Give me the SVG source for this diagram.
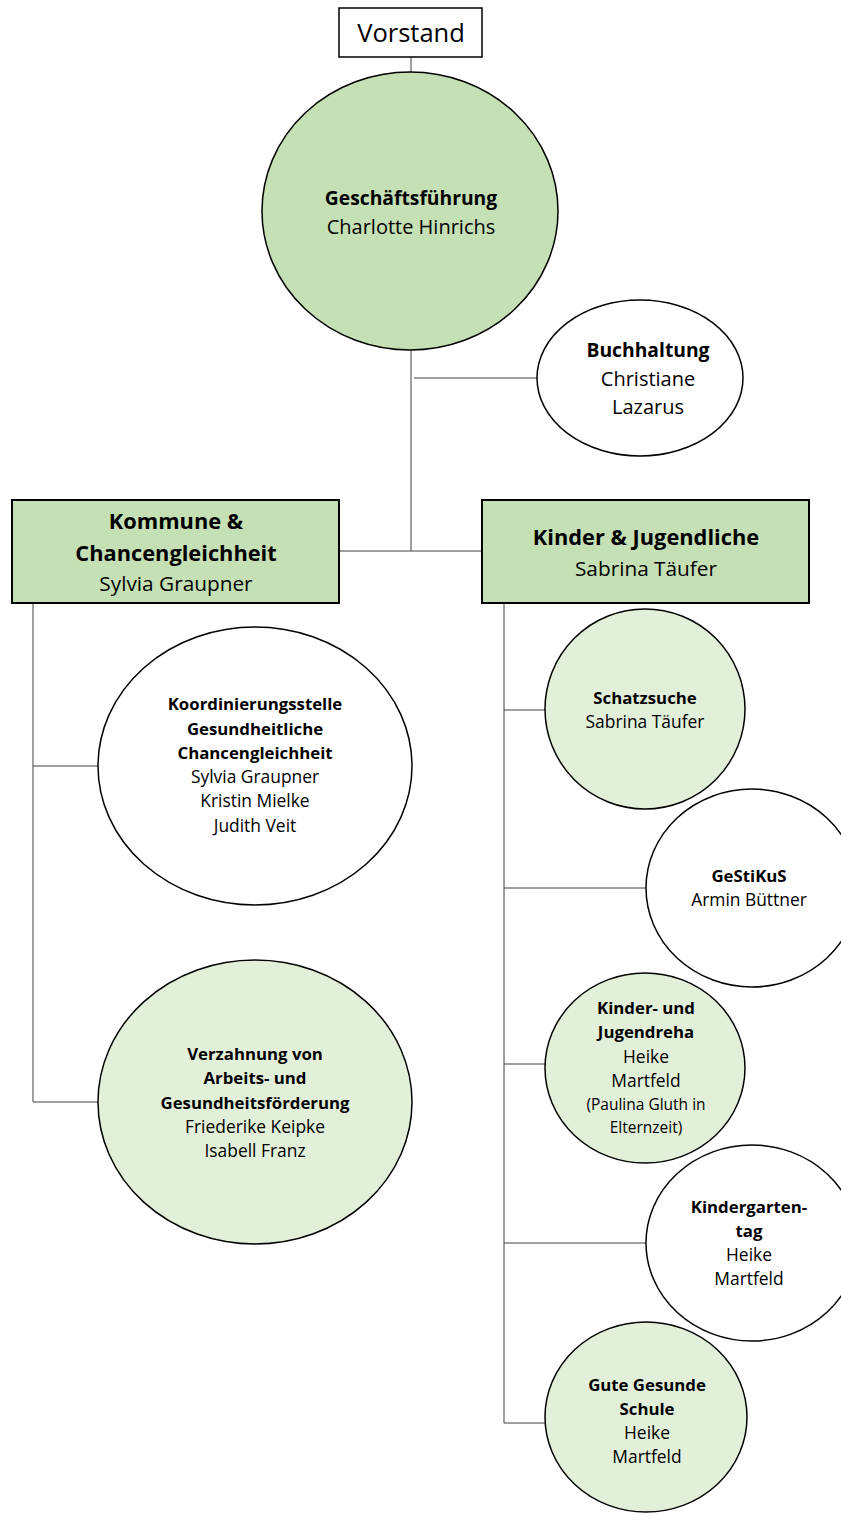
<svg xmlns="http://www.w3.org/2000/svg" width="841" height="1515" viewBox="0 0 841 1515">
<style>
text{font-family:"Open Sans","Liberation Sans",sans-serif;fill:#000;text-anchor:middle}
.b{font-weight:bold}
.sb{font-size:16.8px;font-weight:bold}
.sr{font-size:17.4px}
.s14{font-size:15.5px}
.hb{font-size:19.3px;font-weight:bold}
.hr{font-size:20px}
.s21{font-size:21.8px;font-weight:bold}
.s19{font-size:20.8px}
.hdr{fill:#C5E0B4;stroke:#000;stroke-width:2}
.lt{fill:#E2F0D9;stroke:#000;stroke-width:1.5}
.wh{fill:#fff;stroke:#000;stroke-width:1.5}
.mid{fill:#C5E0B4;stroke:#000;stroke-width:1.5}
#connectors line{stroke:#404040;stroke-width:1}
</style>
<rect width="841" height="1515" fill="#fff"/>
<g id="connectors">
<line x1="411" y1="57" x2="411" y2="72"/>
<line x1="411" y1="350" x2="411" y2="551"/>
<line x1="414" y1="378" x2="537" y2="378"/>
<line x1="339" y1="551" x2="482" y2="551"/>
<line x1="33" y1="603" x2="33" y2="1102"/>
<line x1="33" y1="766" x2="98" y2="766"/>
<line x1="33" y1="1102" x2="98" y2="1102"/>
<line x1="504" y1="603" x2="504" y2="1423"/>
<line x1="504" y1="710" x2="545" y2="710"/>
<line x1="504" y1="888" x2="646" y2="888"/>
<line x1="504" y1="1064" x2="545" y2="1064"/>
<line x1="504" y1="1243" x2="646" y2="1243"/>
<line x1="504" y1="1423" x2="545" y2="1423"/>
</g>
<g id="vorstand">
<rect x="339" y="8" width="143" height="49" fill="#fff" stroke="#000" stroke-width="1.5"/>
<text x="411" y="42" style="font-size:25.5px">Vorstand</text>
</g>
<g id="geschaeftsfuehrung">
<ellipse cx="410" cy="211" rx="148" ry="139" class="mid"/>
<text x="411" y="205" class="hb">Geschäftsführung</text>
<text x="411" y="234" class="hr">Charlotte Hinrichs</text>
</g>
<g id="buchhaltung">
<ellipse cx="640" cy="378" rx="103" ry="78" class="wh"/>
<text x="648" y="357" class="hb">Buchhaltung</text>
<text x="648" y="386" class="hr">Christiane</text>
<text x="648" y="414" class="hr">Lazarus</text>
</g>
<g id="kommune">
<rect x="12" y="500" width="327" height="103" class="hdr"/>
<text x="176" y="529" class="s21">Kommune &amp;</text>
<text x="176" y="561" class="s21">Chancengleichheit</text>
<text x="176" y="591" class="s19">Sylvia Graupner</text>
</g>
<g id="kinder">
<rect x="482" y="500" width="327" height="103" class="hdr"/>
<text x="646" y="545" class="s21">Kinder &amp; Jugendliche</text>
<text x="646" y="576" class="s19">Sabrina Täufer</text>
</g>
<g id="koordinierungsstelle">
<ellipse cx="255" cy="766" rx="157" ry="139" class="wh"/>
<text x="255" y="710" class="sb">Koordinierungsstelle</text>
<text x="255" y="735" class="sb">Gesundheitliche</text>
<text x="255" y="759" class="sb">Chancengleichheit</text>
<text x="255" y="783" class="sr">Sylvia Graupner</text>
<text x="255" y="807" class="sr">Kristin Mielke</text>
<text x="255" y="832" class="sr">Judith Veit</text>
</g>
<g id="verzahnung">
<ellipse cx="255" cy="1102" rx="157" ry="142" class="lt"/>
<text x="255" y="1060" class="sb">Verzahnung von</text>
<text x="255" y="1084" class="sb">Arbeits- und</text>
<text x="255" y="1109" class="sb">Gesundheitsförderung</text>
<text x="255" y="1133" class="sr">Friederike Keipke</text>
<text x="255" y="1157" class="sr">Isabell Franz</text>
</g>
<g id="schatzsuche">
<ellipse cx="645" cy="709" rx="100" ry="100" class="lt"/>
<text x="645" y="704" class="sb">Schatzsuche</text>
<text x="645" y="728" class="sr">Sabrina Täufer</text>
</g>
<g id="gestikus">
<ellipse cx="752" cy="888" rx="106" ry="99" class="wh"/>
<text x="749" y="882" class="sb">GeStiKuS</text>
<text x="749" y="906" class="sr">Armin Büttner</text>
</g>
<g id="jugendreha">
<ellipse cx="645" cy="1068" rx="100" ry="95" class="lt"/>
<text x="646" y="1014" class="sb">Kinder- und</text>
<text x="646" y="1038" class="sb">Jugendreha</text>
<text x="646" y="1063" class="sr">Heike</text>
<text x="646" y="1087" class="sr">Martfeld</text>
<text x="646" y="1110" class="s14">(Paulina Gluth in</text>
<text x="646" y="1133" class="s14">Elternzeit)</text>
</g>
<g id="kindergartentag">
<ellipse cx="752" cy="1243" rx="106" ry="98" class="wh"/>
<text x="749" y="1213" class="sb">Kindergarten-</text>
<text x="749" y="1237" class="sb">tag</text>
<text x="749" y="1261" class="sr">Heike</text>
<text x="749" y="1285" class="sr">Martfeld</text>
</g>
<g id="gutegesundeschule">
<ellipse cx="646" cy="1417" rx="101" ry="95" class="lt"/>
<text x="647" y="1391" class="sb">Gute Gesunde</text>
<text x="647" y="1415" class="sb">Schule</text>
<text x="647" y="1439" class="sr">Heike</text>
<text x="647" y="1463" class="sr">Martfeld</text>
</g>
</svg>
